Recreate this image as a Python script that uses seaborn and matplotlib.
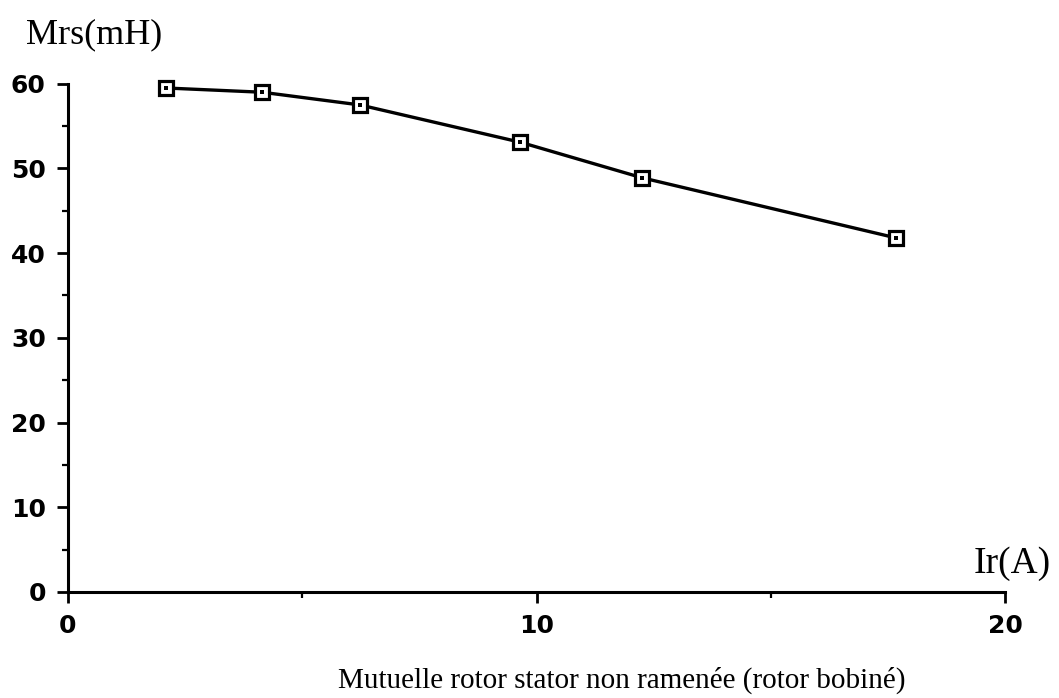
import matplotlib
matplotlib.use("Agg")
import matplotlib.pyplot as plt
from matplotlib.ticker import MultipleLocator
import seaborn as sns
import pandas as pd

# Rotor current (A) and rotor-stator mutual inductance (mH)
ir_amps = [2.09, 4.14, 6.23, 9.65, 12.25, 17.67]
mrs_mh = [59.5, 59.0, 57.5, 53.1, 48.9, 41.8]
x_ticks = [0, 10, 20]
y_ticks = [0, 10, 20, 30, 40, 50, 60]

df = pd.DataFrame({"Ir": ir_amps, "Mrs": mrs_mh})

sns.set_style("ticks")
plt.rcParams["font.family"] = ["DejaVu Sans"]
plt.rcParams["text.color"] = "black"
plt.rcParams["xtick.color"] = "black"
plt.rcParams["ytick.color"] = "black"

fig = plt.figure(figsize=(10.59, 6.98), dpi=100)
ax = fig.add_axes([0.0642, 0.152, 0.885, 0.728])

sns.lineplot(data=df, x="Ir", y="Mrs", ax=ax, color="black", linewidth=2.4,
             marker="s", markersize=10.5, markerfacecolor="white",
             markeredgecolor="black", markeredgewidth=2.3, zorder=3,
             clip_on=False)
# small dot at the centre of each square marker
sns.scatterplot(data=df, x="Ir", y="Mrs", ax=ax, color="black", s=6,
                marker="s", linewidth=0, zorder=4, clip_on=False)

ax.set_xlim(0, 20)
ax.set_ylim(0, 60)
ax.set_xticks(x_ticks)
ax.set_yticks(y_ticks)
ax.xaxis.set_minor_locator(MultipleLocator(5))
ax.yaxis.set_minor_locator(MultipleLocator(5))
ax.tick_params(axis="both", which="major", direction="out", length=8,
               width=2, color="black", labelcolor="black", labelsize=18, pad=8)
ax.tick_params(axis="both", which="minor", direction="out", length=4,
               width=1.6, color="black")
for lab in ax.get_xticklabels() + ax.get_yticklabels():
    lab.set_fontweight("bold")

for side in ("top", "right"):
    ax.spines[side].set_visible(False)
for side in ("left", "bottom"):
    ax.spines[side].set_linewidth(2.2)
    ax.spines[side].set_color("black")

ax.set_xlabel("")
ax.set_ylabel("")

serif = ["Liberation Serif", "DejaVu Serif"]
fig.text(0.025, 0.95, "Mrs(mH)", family=serif, fontsize=26, color="black",
         ha="left", va="center")
fig.text(0.992, 0.179, "Ir(A)", family=serif, fontsize=27, color="black",
         ha="right", va="baseline")
fig.text(0.587, 0.025, "Mutuelle rotor stator non ramenée (rotor bobiné)",
         family=serif, fontsize=21, color="black", ha="center", va="center")

fig.savefig("out.png", dpi=100, facecolor="white")
